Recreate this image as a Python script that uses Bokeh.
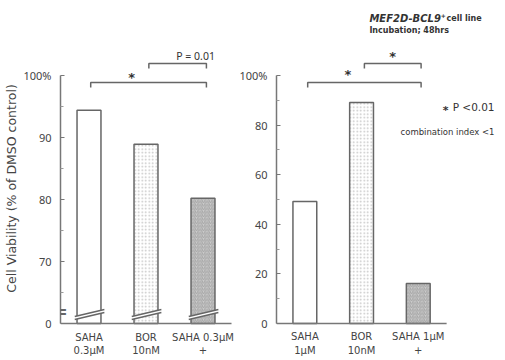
from bokeh.plotting import figure
from bokeh.models import FixedTicker, Range1d, ColumnDataSource, Label
from bokeh.layouts import row
from bokeh.core.properties import value
from bokeh.embed import file_html
from bokeh.resources import INLINE

# ---- data ----
left_labels = ["SAHA\n0.3μM", "BOR\n10nM", "SAHA 0.3μM\n+\nBOR 10nM"]
left_values = [94.4, 88.9, 80.2]
right_labels = ["SAHA\n1μM", "BOR\n10nM", "SAHA 1μM\n+\nBOR 10nM"]
right_values = [49.2, 89.1, 16.1]
left_ticks = [60, 70, 80, 90, 100]          # 60 is the broken-axis baseline shown as "0"
left_tick_text = {60: "0", 70: "70", 80: "80", 90: "90", 100: "100%"}
right_ticks = [0, 20, 40, 60, 80, 100]
right_tick_text = {0: "0", 20: "20", 40: "40", 60: "60", 80: "80", 100: "100%"}
left_sig = ["*", "P = 0.01"]
right_sig = ["*", "*"]
y_title = "Cell Viability (% of DMSO control)"

FONT = "Noto Sans"
WIDE = "DejaVu Sans"
TXT = "#444444"
LINE = "#666666"
fills = ["white", "white", "#cdcdcd"]
hatches = [" ", ".", "/"]
hatch_cols = ["white", "#c4c4c4", "#a6a6a6"]

H = 360


def base_fig(width, border_left, xr, yr):
    p = figure(width=width, height=H, output_backend="svg", toolbar_location=None,
               x_range=Range1d(*xr), y_range=Range1d(*yr),
               min_border_left=border_left, min_border_right=0,
               min_border_top=0, min_border_bottom=0)
    p.outline_line_color = None
    p.grid.visible = False
    p.xaxis.visible = False
    ax = p.yaxis[0]
    ax.axis_line_color = "#777777"
    ax.axis_line_width = 1.5
    ax.major_tick_in = 4
    ax.major_tick_out = 0
    ax.minor_tick_in = 3
    ax.minor_tick_out = 0
    ax.major_tick_line_color = "#777777"
    ax.minor_tick_line_color = "#999999"
    ax.major_label_text_font = FONT
    ax.major_label_text_font_size = "11px"
    ax.major_label_text_color = TXT
    ax.major_label_standoff = 9
    return p


def draw_bars(p, values, labels, base, label_y):
    centers = [i + 0.5 for i in range(len(values))]
    src = ColumnDataSource(dict(x=centers, top=values, fill=fills, hatch=hatches, hc=hatch_cols))
    p.vbar(x="x", top="top", bottom=base, width=0.42, source=src,
           fill_color="fill", hatch_pattern="hatch", hatch_color="hc",
           hatch_scale=3.5, hatch_weight=1, line_color=LINE, line_width=1.5)
    # x axis line
    p.segment(x0=[0], y0=[base], x1=[3], y1=[base], line_color="#777777", line_width=1.5)
    p.text(x=centers, y=[label_y] * 3, text=labels, text_font=value(WIDE),
           text_font_size="10px", text_color=TXT, text_align="center",
           text_baseline="top", text_line_height=1.25)
    return centers


# ---------------- left panel (broken axis) ----------------
pl = base_fig(236, 60, (0, 176 / 57), (60 - 37 / 6.2, 60 + 323 / 6.2))
axl = pl.yaxis[0]
axl.ticker = FixedTicker(ticks=left_ticks, minor_ticks=[65, 75, 85, 95])
axl.major_label_overrides = left_tick_text
axl.bounds = (60, 100)
axl.axis_label = y_title + "\u00a0" * 4
axl.axis_label_text_font = WIDE
axl.axis_label_text_font_size = "12.5px"
axl.axis_label_text_font_style = "normal"
axl.axis_label_text_color = TXT
axl.axis_label_standoff = 1

cl = draw_bars(pl, left_values, left_labels, 60, 58.7)

# axis break on bars
for c in cl:
    pl.patch(x=[c - 0.25, c + 0.27, c + 0.27, c - 0.25],
             y=[61.13, 62.26, 61.77, 60.65], fill_color="white", line_color=None)
    pl.multi_line(xs=[[c - 0.25, c + 0.27], [c - 0.25, c + 0.27]],
                  ys=[[61.13, 62.26], [60.65, 61.77]], line_color=LINE, line_width=1.5)
# axis break mark on y axis
pl.add_layout(Label(x=0, y=61.9, text="=", text_font=WIDE, text_font_size="17px",
                    text_font_style="bold", text_color="#666666",
                    text_align="center", text_baseline="middle"))

# brackets
bx0, bx1 = cl[0] + 0.03, cl[2] + 0.06
sx0 = cl[1] + 0.05
pl.multi_line(xs=[[bx0, bx0, bx1, bx1], [sx0, sx0, bx1, bx1]],
              ys=[[98.06, 98.87, 98.87, 98.06], [101.13, 101.94, 101.94, 101.13]],
              line_color=LINE, line_width=1.5)
pl.text(x=[1.25], y=[99.6], text=[left_sig[0]], text_font=value(WIDE),
        text_font_size="13px", text_font_style="bold", text_color="#333333",
        text_align="center", text_baseline="middle")
pl.text(x=[2.37], y=[103.2], text=[left_sig[1]], text_font=value(FONT),
        text_font_size="10.5px", text_color="#333333", text_align="center",
        text_baseline="middle")

# ---------------- right panel ----------------
pr = base_fig(259, 35, (0, 224 / 58), (-37 / 2.48, 323 / 2.48))
axr = pr.yaxis[0]
axr.ticker = FixedTicker(ticks=right_ticks, minor_ticks=[10, 30, 50, 70, 90])
axr.major_label_overrides = right_tick_text
axr.bounds = (0, 100)

cr = draw_bars(pr, right_values, right_labels, 0, -3.2)

bx0, bx1 = cr[0] + 0.05, cr[2] + 0.05
sx0 = cr[1] + 0.05
pr.multi_line(xs=[[bx0, bx0, bx1, bx1], [sx0, sx0, bx1, bx1]],
              ys=[[95.2, 97.2, 97.2, 95.2], [102.8, 104.8, 104.8, 102.8]],
              line_color=LINE, line_width=1.5)
pr.text(x=[1.26, 2.05], y=[100.5, 107.6], text=right_sig, text_font=value(WIDE),
        text_font_size="13px", text_font_style="bold", text_color="#333333",
        text_align="center", text_baseline="middle")

# notes (top right)
pr.text(x=[1.638], y=[123.1], text=["MEF2D-BCL9"], text_font=value(WIDE),
        text_font_size="10px", text_font_style="bold italic", text_color="#333333",
        text_align="left", text_baseline="middle")
pr.text(x=[2.897], y=[124.0], text=["+"], text_font=value(WIDE),
        text_font_size="6px", text_font_style="bold", text_color="#333333",
        text_align="left", text_baseline="middle")
pr.text(x=[3.0], y=[123.1], text=["cell line"], text_font=value(WIDE),
        text_font_size="8px", text_font_style="bold", text_color="#333333",
        text_align="left", text_baseline="middle")
pr.text(x=[1.638], y=[118.1], text=["Incubation; 48hrs"], text_font=value(WIDE),
        text_font_size="8px", text_font_style="bold", text_color="#333333",
        text_align="left", text_baseline="middle")

# legend note
pr.text(x=[2.983], y=[85.8], text=["*"], text_font=value(WIDE),
        text_font_size="11px", text_font_style="bold", text_color="#333333",
        text_align="center", text_baseline="middle")
pr.text(x=[3.845], y=[87.1], text=["P <0.01"], text_font=value(WIDE),
        text_font_size="10.5px", text_color="#333333", text_align="right",
        text_baseline="middle")
pr.text(x=[3.845], y=[77.4], text=["combination index <1"], text_font=value(WIDE),
        text_font_size="8.5px", text_color="#333333", text_align="right",
        text_baseline="middle")

layout = row(pl, pr)
open("out.html", "w").write(file_html(layout, INLINE))
